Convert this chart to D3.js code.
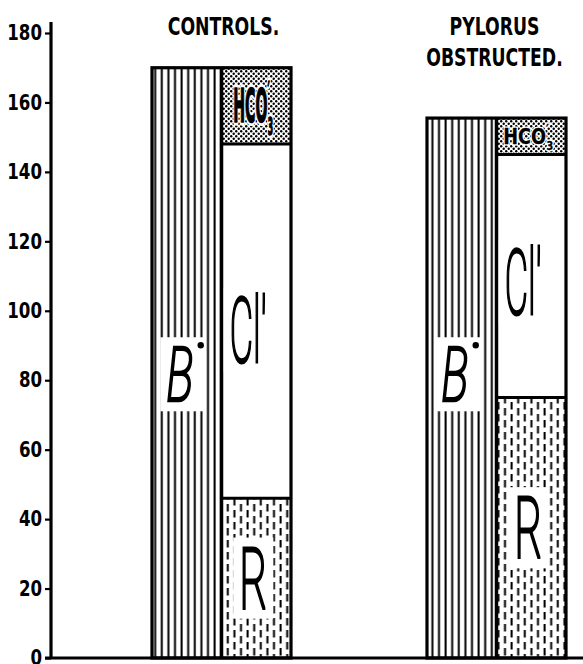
<!DOCTYPE html>
<html><head><meta charset="utf-8">
<script src="https://cdn.jsdelivr.net/npm/d3@7"></script>
<style>body{margin:0;background:#fff}svg{display:block}</style>
</head><body>
<svg id="c" width="583" height="664"></svg>
<script>
// ---- data ----
const categories = ["CONTROLS.", "PYLORUS OBSTRUCTED."];
const titleLines = [["CONTROLS."], ["PYLORUS", "OBSTRUCTED."]];
const baseB = [170, 155.5];       // B· (cations)
const acidR = [46, 75];           // R'
const chloride = [102, 70];       // Cl'
const bicarbonate = [22, 10.5];   // HCO3'
const yTicks = [0, 20, 40, 60, 80, 100, 120, 140, 160, 180];

// ---- styles ----
const NARROW = "'Liberation Sans Narrow','DejaVu Sans Condensed','Arial Narrow','DejaVu Sans',sans-serif";
const THIN = "Roboto,'Open Sans',Lato,sans-serif";
const hcoStyle = [{size: 46, width: 40}, {size: 22, width: 50}];
const titleScale = 0.8;
const tickScale = 0.88;

const svg = d3.select("#c");
const y = d3.scaleLinear().domain([0, 180]).range([658, 33]);
const x = d3.scaleBand().domain(categories).range([152, 566]).paddingInner(0.4945).paddingOuter(0);
const sub = d3.scaleBand().domain(["cation", "anion"]).range([0, x.bandwidth()]);
const bw = sub.bandwidth();

// ---- patterns ----
const defs = svg.append("defs");
const pv = defs.append("pattern").attr("id", "vl").attr("patternUnits", "userSpaceOnUse")
  .attr("width", 6.6).attr("height", 10);
pv.append("rect").attr("x", 2.4).attr("y", 0).attr("width", 2.0).attr("height", 10).attr("fill", "#000");

const pd = defs.append("pattern").attr("id", "dash").attr("patternUnits", "userSpaceOnUse")
  .attr("width", 13.2).attr("height", 12);
pd.append("rect").attr("x", 2.4).attr("y", 0).attr("width", 2.0).attr("height", 7.5).attr("fill", "#000");
pd.append("rect").attr("x", 9.0).attr("y", 6).attr("width", 2.0).attr("height", 7.5).attr("fill", "#000");
pd.append("rect").attr("x", 9.0).attr("y", -6).attr("width", 2.0).attr("height", 7.5).attr("fill", "#000");

const pdot = defs.append("pattern").attr("id", "dots").attr("patternUnits", "userSpaceOnUse")
  .attr("width", 5).attr("height", 5);
pdot.append("circle").attr("cx", 1.2).attr("cy", 1.2).attr("r", 1.2).attr("fill", "#000");
pdot.append("circle").attr("cx", 3.7).attr("cy", 3.7).attr("r", 1.2).attr("fill", "#000");

// ---- bars ----
const data = categories.map((c, i) => ({cat: c, i, B: baseB[i], R: acidR[i], Cl: chloride[i], H: bicarbonate[i]}));
const barsG = svg.append("g");
const labelsG = svg.append("g");

function bigLabel(parent, txt, cx, cy, size, targetW, italic, sw, extraRight) {
  const g = parent.append("g").attr("transform", `translate(${cx},${cy})`);
  const inner = g.append("g");
  const rect = inner.append("rect").attr("fill", "#fff");
  const t = inner.append("text").attr("text-anchor", "middle")
    .attr("font-family", THIN).attr("font-weight", 200).attr("font-size", size)
    .attr("font-style", italic ? "italic" : "normal")
    .attr("fill", "#000").attr("stroke", "#000").attr("stroke-width", sw)
    .attr("vector-effect", "non-scaling-stroke")
    .attr("y", size * 0.711 / 2)
    .text(txt);
  const bb = t.node().getBBox();
  const sx = targetW / bb.width;
  inner.attr("transform", `scale(${sx},1)`);
  const capTop = -size * 0.711 / 2, capBot = size * 0.711 / 2;
  const px = 6 / sx;
  rect.attr("x", bb.x - px).attr("width", bb.width + 2 * px + (extraRight || 0) / sx)
    .attr("y", capTop - 10).attr("height", capBot - capTop + 20);
  return {g, sx, bb};
}

data.forEach(d => {
  const x0 = x(d.cat), xc = x0 + sub("cation"), xa = x0 + sub("anion");
  barsG.append("rect").attr("x", xc).attr("y", y(d.B)).attr("width", bw).attr("height", y(0) - y(d.B))
    .attr("fill", "url(#vl)");
  const segs = [
    {k: "R", lo: 0, hi: d.R, fill: "url(#dash)"},
    {k: "Cl", lo: d.R, hi: d.R + d.Cl, fill: "#fff"},
    {k: "H", lo: d.R + d.Cl, hi: d.R + d.Cl + d.H, fill: "url(#dots)"}
  ];
  segs.forEach(s => {
    barsG.append("rect").attr("x", xa).attr("y", y(s.hi)).attr("width", bw).attr("height", y(s.lo) - y(s.hi))
      .attr("fill", s.fill);
  });

  // labels
  const cxC = xc + bw / 2, cxA = xa + bw / 2;
  bigLabel(labelsG, "B", cxC - 7, y(82) + 1, 76, 27, true, 2.2, 6);
  labelsG.append("circle").attr("cx", cxC + 14).attr("cy", y(82) - 28).attr("r", 3.2).attr("fill", "#000");

  const clMid = y(d.R + d.Cl * 0.475);
  bigLabel(labelsG, "Cl\u2032", cxA - 8, clMid, 90, 37, false, 2.2);

  const rMid = y(d.R / 2);
  bigLabel(labelsG, "R", cxA - 3, rMid, 86, 28, false, 2.2);

  // HCO3'
  const hs = hcoStyle[d.i];
  const hMid = y(d.R + d.Cl + d.H / 2);
  const hg = labelsG.append("g").attr("transform", `translate(${cxA - 3},${hMid})`);
  const hi = hg.append("g");
  const mk = (fill, stroke, sw) => {
    const t = hi.append("text").attr("text-anchor", "middle")
      .attr("font-family", NARROW).attr("font-weight", "bold").attr("font-size", hs.size)
      .attr("fill", fill).attr("stroke", stroke).attr("stroke-width", sw)
      .attr("stroke-linejoin", "round")
      .attr("y", hs.size * 0.36);
    t.append("tspan").text("HCO");
    t.append("tspan").attr("font-size", hs.size * 0.6).attr("dy", -hs.size * 0.45).text("\u2032");
    t.append("tspan").attr("font-size", hs.size * 0.55).attr("dx", -hs.size * 0.12).attr("dy", hs.size * 0.72).text("3");
    return t;
  };
  const halo = mk("#fff", "#fff", d.i ? 3 : 7);
  const ht = mk("#000", "#000", d.i ? 0.3 : 1.6);
  const hb = ht.node().getBBox();
  hi.attr("transform", `scale(${hs.width / hb.width},1)`);

  // outlines
  barsG.append("rect").attr("x", x0).attr("y", y(d.B)).attr("width", x.bandwidth()).attr("height", y(0) - y(d.B))
    .attr("fill", "none").attr("stroke", "#000").attr("stroke-width", 3.2);
  barsG.append("line").attr("x1", xa).attr("x2", xa).attr("y1", y(d.B)).attr("y2", y(0))
    .attr("stroke", "#000").attr("stroke-width", 3.5);
  [d.R, d.R + d.Cl].forEach(v => {
    barsG.append("line").attr("x1", xa).attr("x2", xa + bw).attr("y1", y(v)).attr("y2", y(v))
      .attr("stroke", "#000").attr("stroke-width", 3);
  });

  // titles
  const tl = titleLines[d.i];
  const cxT = x0 + x.bandwidth() / 2 + (d.i ? -2 : 2);
  tl.forEach((line, j) => {
    svg.append("text").attr("text-anchor", "middle")
      .attr("font-family", NARROW).attr("font-weight", "bold").attr("font-size", 24)
      .attr("fill", "#000")
      .attr("transform", `translate(${cxT},${35 + j * 31}) scale(${titleScale},1)`)
      .text(line);
  });
});

// ---- axis ----
const axisG = svg.append("g").attr("transform", "translate(51,0)")
  .call(d3.axisLeft(y).tickValues(yTicks).tickSize(6).tickSizeOuter(0).tickPadding(3).tickFormat(d3.format("d")));
axisG.select(".domain").attr("d", `M0,${y(180) - 11}V${y(0)}`).attr("stroke", "#000").attr("stroke-width", 3.2);
axisG.selectAll(".tick line").attr("stroke", "#000").attr("stroke-width", 2.2);
axisG.selectAll(".tick text").attr("font-family", NARROW).attr("font-weight", "bold")
  .attr("font-size", 21).attr("fill", "#000")
  .attr("x", 0).attr("transform", `translate(-9,0) scale(${tickScale},1)`);

svg.append("line").attr("x1", 45).attr("x2", 583).attr("y1", y(0)).attr("y2", y(0))
  .attr("stroke", "#000").attr("stroke-width", 3.2);
</script>
</body></html>
